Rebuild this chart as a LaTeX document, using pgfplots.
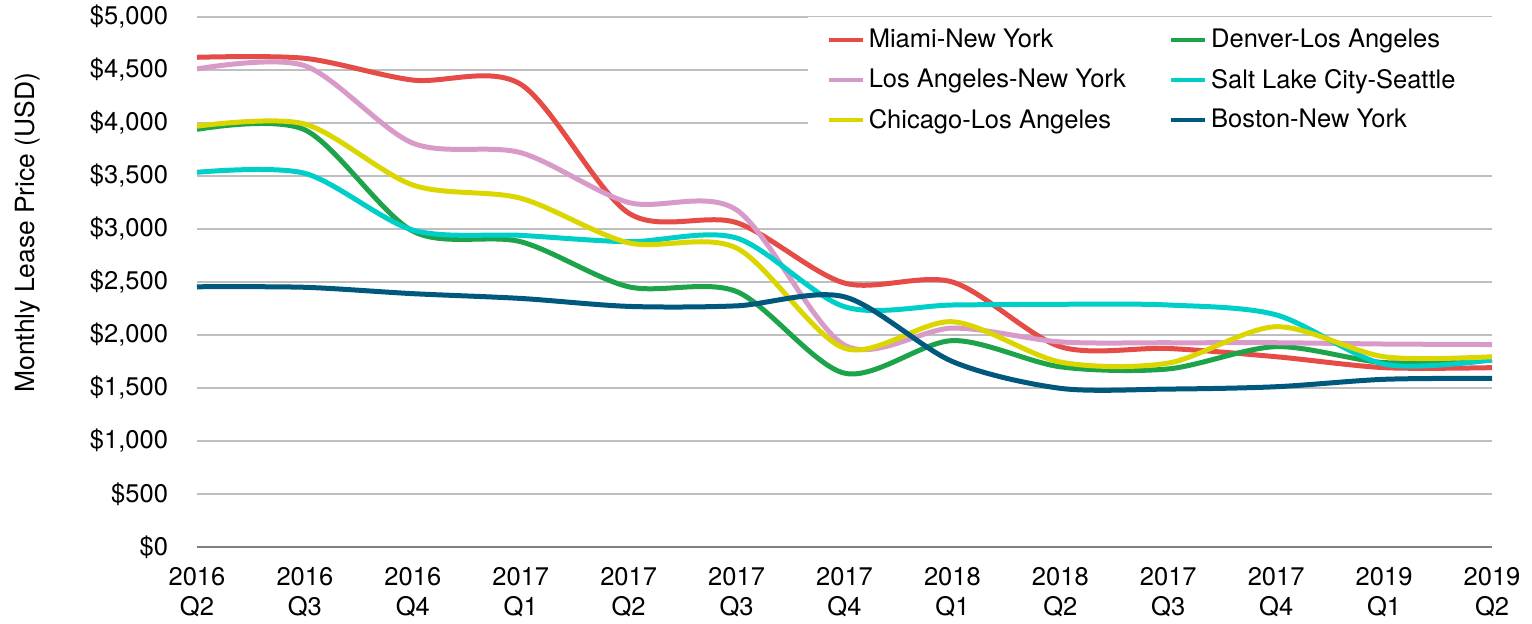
\documentclass[border=0pt]{standalone}
\usepackage{fontspec}
\setmainfont{TeX Gyre Heros}
\usepackage{pgfplots}
\pgfplotsset{compat=1.18}
\definecolor{cRed}{RGB}{229,76,72}
\definecolor{cPink}{RGB}{216,155,201}
\definecolor{cYellow}{RGB}{220,214,0}
\definecolor{cGreen}{RGB}{29,163,74}
\definecolor{cCyan}{RGB}{0,206,201}
\definecolor{cNavy}{RGB}{0,89,125}
\newcommand{\lf}{\fontsize{12.75}{15}\selectfont}
\newcommand{\legtxt}[1]{\makebox[140pt][l]{#1}}
\begin{document}
\begin{tikzpicture}
\begin{axis}[
  name=ax,
  scale only axis,
  width=647.5pt, height=265pt,
  xmin=0, xmax=12, ymin=0, ymax=5000,
  xtick={0,...,12},
  xticklabels={{2016\\Q2},{2016\\Q3},{2016\\Q4},{2017\\Q1},{2017\\Q2},{2017\\Q3},{2017\\Q4},{2018\\Q1},{2018\\Q2},{2017\\Q3},{2017\\Q4},{2019\\Q1},{2019\\Q2}},
  xticklabel style={align=center, font=\lf, yshift=-6.5pt},
  ytick={0,500,...,5000},
  yticklabels={{\$0},{\$500},{\$1,000},{\$1,500},{\$2,000},{\$2,500},{\$3,000},{\$3,500},{\$4,000},{\$4,500},{\$5,000}},
  yticklabel style={font=\lf, xshift=-11pt},
  ymajorgrids,
  grid style={color=black!25, line width=0.9pt},
  axis line style={draw=none},
  major tick length=0pt,
  extra y ticks={0}, extra y tick labels={},
  extra y tick style={grid style={color=black!50, line width=0.9pt}},
  ylabel={Monthly Lease Price (USD)},
  ylabel style={at={(axis description cs:-0.131,0.593)}, anchor=center, font=\fontsize{13.2}{15}\selectfont},
  legend columns=2,
  legend cell align=left,
  legend style={at={(axis description cs:0.4718,1)}, anchor=north west, draw=none, fill=white,
    inner xsep=9pt, inner ysep=4pt, font=\lf, row sep=5pt,
    /tikz/every even column/.append style={column sep=8pt}},
  legend image code/.code={\draw[#1,line width=2.2pt](0pt,0pt)--(17pt,0pt);},
]
\addplot[cRed, line width=2.5pt, smooth] coordinates {(0,4620)(1,4610)(2,4405)(3,4365)(4,3150)(5,3060)(6,2490)(7,2500)(8,1890)(9,1873)(10,1795)(11,1692)(12,1692)};
\addlegendentry{\legtxt{Miami-New York}}
\addplot[cGreen, line width=2.5pt, smooth] coordinates {(0,3940)(1,3935)(2,2980)(3,2880)(4,2455)(5,2410)(6,1640)(7,1947)(8,1700)(9,1680)(10,1890)(11,1740)(12,1765)};
\addlegendentry{\legtxt{Denver-Los Angeles}}
\addplot[cPink, line width=2.5pt, smooth] coordinates {(0,4510)(1,4540)(2,3810)(3,3720)(4,3250)(5,3180)(6,1905)(7,2065)(8,1935)(9,1927)(10,1927)(11,1915)(12,1910)};
\addlegendentry{\legtxt{Los Angeles-New York}}
\addplot[cCyan, line width=2.5pt, smooth] coordinates {(0,3535)(1,3525)(2,2990)(3,2940)(4,2880)(5,2915)(6,2267)(7,2283)(8,2290)(9,2283)(10,2190)(11,1725)(12,1765)};
\addlegendentry{\legtxt{Salt Lake City-Seattle}}
\addplot[cYellow, line width=2.5pt, smooth] coordinates {(0,3970)(1,3990)(2,3415)(3,3290)(4,2870)(5,2820)(6,1875)(7,2125)(8,1745)(9,1735)(10,2078)(11,1795)(12,1795)};
\addlegendentry{\legtxt{Chicago-Los Angeles}}
\addplot[cNavy, line width=2.5pt, smooth] coordinates {(0,2455)(1,2450)(2,2390)(3,2345)(4,2270)(5,2275)(6,2360)(7,1750)(8,1497)(9,1490)(10,1512)(11,1582)(12,1591)};
\addlegendentry{\legtxt{Boston-New York}}
\end{axis}
\pgfresetboundingbox
\path[use as bounding box] ([shift={(-98.5pt,-38pt)}]ax.south west) rectangle ([shift={(20pt,8.5pt)}]ax.north east);
\end{tikzpicture}
\end{document}
